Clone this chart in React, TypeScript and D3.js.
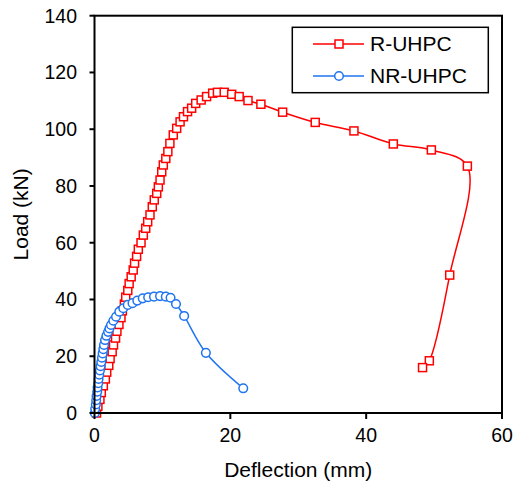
import React from "react";
import * as d3 from "d3";

// R-UHPC: deflection (mm), load (kN)
const rDefl = [
  0.3, 0.5, 0.8, 1.0, 1.3, 1.6, 1.8, 2.1, 2.3, 2.6, 2.8, 3.1, 3.3, 3.6, 3.9, 4.1, 4.4, 4.6, 4.9, 5.1, 5.4, 5.7, 5.9, 6.2,
  6.45, 6.85, 7.19, 7.54, 7.83, 8.17, 8.51, 8.8, 9.16, 9.4, 9.65, 9.9, 10.13, 10.5, 10.8, 11.1, 11.6, 12.1, 12.6, 13.1,
  13.7, 14.3, 14.9, 15.7, 16.5, 17.4, 18.1, 19.1, 20.2, 21.3, 22.6, 24.5, 27.7, 32.5, 38.2, 44.0, 49.6, 54.9, 52.3, 49.3, 48.3,
];
const rLoad = [
  0, 2.4, 4.8, 7.2, 9.6, 12, 14.4, 16.8, 19.2, 21.6, 24, 26.4, 28.8, 31.2, 33.6, 36, 38.4, 40.8, 43.2, 45.6, 48, 50.4, 52.8, 55.2,
  57.7, 60.0, 62.7, 65.1, 67.4, 69.8, 72.7, 75.1, 77.4, 79.7, 82.1, 85.0, 87.4, 89.7, 92.1, 95.0, 98.0, 100.3, 102.6, 104.4,
  106.2, 107.4, 109.1, 110.3, 111.5, 112.7, 113.0, 113.0, 112.3, 111.5, 110.1, 108.8, 106.0, 102.4, 99.4, 94.8, 92.7, 87.0, 48.6, 18.4, 16.0,
];

// NR-UHPC
const nrDefl = [
  0.05, 0.1, 0.2, 0.25, 0.3, 0.4, 0.45, 0.55, 0.6, 0.7, 0.8, 0.9, 1.0, 1.1, 1.2, 1.3, 1.4, 1.55, 1.75, 2.0, 2.2, 2.43, 2.77,
  3.17, 3.65, 4.24, 4.9, 5.6, 6.3, 7.1, 7.9, 8.76, 9.65, 10.5, 11.2, 12.0, 13.2, 16.4, 21.9,
];
const nrLoad = [
  0, 1.5, 3, 4.5, 6, 7.5, 9, 10.5, 12, 13.5, 15, 16.5, 18, 19.5, 21, 22.5, 24, 25.7, 27.2, 28.6, 29.8, 31.0, 32.5,
  33.9, 35.7, 36.9, 38.1, 38.7, 39.6, 40.4, 40.8, 41.0, 41.2, 41.0, 40.6, 38.4, 34.2, 21.2, 8.7,
];

const xTicks = [0, 20, 40, 60];
const yTicks = [0, 20, 40, 60, 80, 100, 120, 140];
const seriesNames = ["R-UHPC", "NR-UHPC"];

const W = 514;
const H = 486;
const L = 94.5, R = 502, T = 15.7, B = 413;
const FONT = "'Liberation Sans', Arial, sans-serif";
const RED = "#ff0000";
const BLUE = "#1f74f0";

export default function App() {
  const x = d3.scaleLinear().domain([0, 60]).range([L, R]);
  const y = d3.scaleLinear().domain([0, 140]).range([B, T]);
  const line = d3
    .line<[number, number]>()
    .x((d) => x(d[0]))
    .y((d) => y(d[1]))
    .curve(d3.curveCatmullRom.alpha(0.5));

  const rPts: [number, number][] = rDefl.map((d, i) => [d, rLoad[i]]);
  const nPts: [number, number][] = nrDefl.map((d, i) => [d, nrLoad[i]]);
  const s = 8;

  return (
    <svg width={W} height={H} style={{ position: "absolute", left: 0, top: 0 }} fontFamily={FONT}>
      <rect width={W} height={H} fill="#fff" />
      {/* series */}
      <path d={line(rPts) || ""} fill="none" stroke={RED} strokeWidth={1.5} />
      {rPts.map((p, i) => (
        <rect key={"r" + i} x={x(p[0]) - s / 2} y={y(p[1]) - s / 2} width={s} height={s} fill="#fff" stroke={RED} strokeWidth={1.5} />
      ))}
      <path d={line(nPts) || ""} fill="none" stroke={BLUE} strokeWidth={1.5} />
      {nPts.map((p, i) => (
        <circle key={"n" + i} cx={x(p[0])} cy={y(p[1])} r={4.3} fill="#fff" stroke={BLUE} strokeWidth={1.5} />
      ))}
      {/* frame */}
      <rect x={L} y={T} width={R - L} height={B - T} fill="none" stroke="#000" strokeWidth={2} />
      {/* y ticks */}
      {yTicks.map((t) => (
        <g key={"y" + t}>
          <line x1={L - 5} x2={L} y1={y(t)} y2={y(t)} stroke="#000" strokeWidth={2} />
          <text x={77} y={y(t)} dy="0.35em" textAnchor="end" fontSize={19.5} fill="#000">
            {t}
          </text>
        </g>
      ))}
      {/* x ticks */}
      {xTicks.map((t) => (
        <g key={"x" + t}>
          <line x1={x(t)} x2={x(t)} y1={B} y2={B + 6} stroke="#000" strokeWidth={2} />
          <text x={x(t)} y={442} textAnchor="middle" fontSize={19.5} fill="#000">
            {t}
          </text>
        </g>
      ))}
      <text x={(L + R) / 2} y={477} textAnchor="middle" fontSize={21} fill="#000">
        Deflection (mm)
      </text>
      <text transform={`translate(27.5,${(T + B) / 2}) rotate(-90)`} textAnchor="middle" fontSize={21} fill="#000">
        Load (kN)
      </text>
      {/* legend */}
      <rect x={292.3} y={27.3} width={196} height={65.4} fill="#fff" stroke="#000" strokeWidth={1.5} />
      {seriesNames.map((name, i) => {
        const cy = i === 0 ? 44 : 76;
        const col = i === 0 ? RED : BLUE;
        return (
          <g key={name}>
            <line x1={313} x2={364} y1={cy} y2={cy} stroke={col} strokeWidth={1.5} />
            {i === 0 ? (
              <rect x={339 - s / 2} y={cy - s / 2} width={s} height={s} fill="#fff" stroke={col} strokeWidth={1.5} />
            ) : (
              <circle cx={339} cy={cy} r={4.3} fill="#fff" stroke={col} strokeWidth={1.5} />
            )}
            <text x={370} y={cy + 7.3} fontSize={21} fill="#000">
              {name}
            </text>
          </g>
        );
      })}
    </svg>
  );
}
